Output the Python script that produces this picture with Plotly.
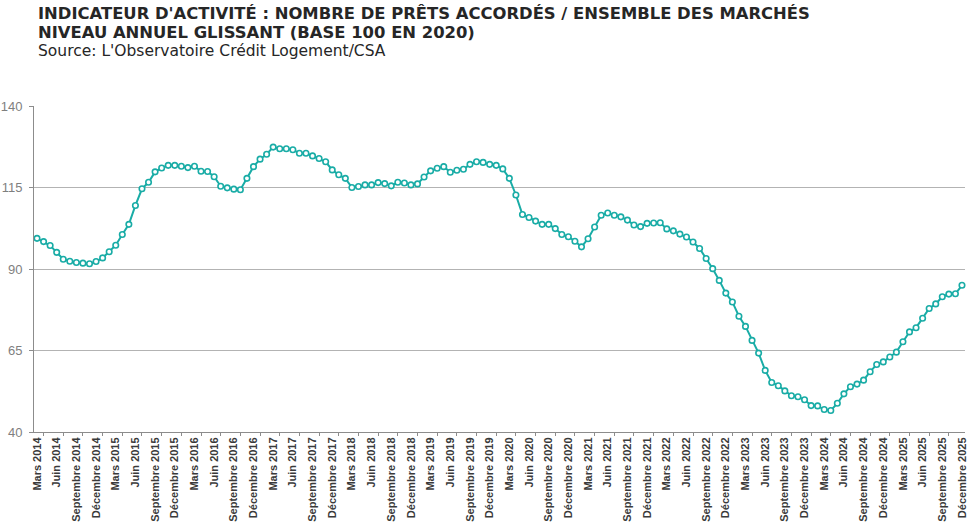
import plotly.graph_objects as go

# Mars 2014 -> Décembre 2025, one value per month (annual rolling level, base 100 in 2020)
mois = ["Janvier", "Février", "Mars", "Avril", "Mai", "Juin", "Juillet",
        "Août", "Septembre", "Octobre", "Novembre", "Décembre"]
annees = list(range(2014, 2026))

indice = [
    99.4, 98.4, 97.2, 95.1, 93.0, 92.4, 92.0, 91.8, 91.6, 92.3,
    93.4, 95.3, 97.3, 100.6, 103.7, 109.5, 114.6, 116.6, 119.8, 121.0,
    121.8, 121.8, 121.5, 121.1, 121.5, 120.0, 119.9, 118.3, 115.4, 114.9,
    114.5, 114.3, 117.8, 121.4, 123.7, 125.2, 127.4, 126.9, 126.9, 126.6,
    125.5, 125.5, 124.7, 123.9, 122.9, 120.4, 118.9, 117.8, 115.0, 115.3,
    115.8, 115.8, 116.5, 116.2, 115.5, 116.6, 116.4, 115.8, 116.1, 118.2,
    120.1, 120.9, 121.4, 119.7, 120.3, 120.6, 122.1, 122.9, 122.7, 122.1,
    121.8, 120.7, 117.8, 112.7, 106.7, 105.8, 104.7, 103.7, 103.7, 102.4,
    100.6, 99.9, 98.5, 96.8, 99.3, 102.9, 106.5, 107.2, 106.5, 106.0,
    105.0, 103.5, 103.0, 104.0, 104.1, 104.2, 102.3, 101.7, 100.7, 99.8,
    98.3, 96.3, 93.2, 90.1, 86.5, 82.6, 79.9, 75.5, 72.4, 68.1,
    64.2, 58.9, 55.2, 54.2, 52.6, 51.1, 50.8, 49.9, 48.1, 48.0,
    46.9, 46.6, 48.8, 51.7, 53.9, 54.7, 55.9, 58.5, 60.7, 61.5,
    63.0, 64.5, 67.7, 70.7, 72.0, 74.9, 77.9, 79.3, 81.5, 82.3,
    82.4, 85.0,
]

labels_mois = [f"{m} {a}" for a in annees for m in mois][2:]
x = list(range(len(indice)))
tick_pos = x[::3]
tick_text = labels_mois[::3]

y_ticks = [40, 65, 90, 115, 140]

titre_1 = "INDICATEUR D'ACTIVITÉ : NOMBRE DE PRÊTS ACCORDÉS / ENSEMBLE DES MARCHÉS"
titre_2 = "NIVEAU ANNUEL GLISSANT (BASE 100 EN 2020)"
source = "Source: L'Observatoire Crédit Logement/CSA"

# plot area in page pixels
PLOT_TOP, PLOT_H, PLOT_L, PLOT_W = 106, 326, 34, 931


def py(y_px):
    return (PLOT_TOP + PLOT_H - y_px) / PLOT_H


def px(x_px):
    return (x_px - PLOT_L) / PLOT_W


fig = go.Figure(go.Scatter(
    x=x,
    y=indice,
    text=labels_mois,
    mode="lines+markers",
    cliponaxis=False,
    line=dict(color="#19aca6", width=2),
    marker=dict(symbol="circle", size=5.5, color="white",
                line=dict(color="#19aca6", width=1.6)),
    hovertemplate="%{text}<br>%{y:.1f}<extra></extra>",
))

fig.update_layout(
    width=974,
    height=529,
    paper_bgcolor="white",
    plot_bgcolor="white",
    showlegend=False,
    margin=dict(l=PLOT_L, r=974 - PLOT_L - PLOT_W, t=PLOT_TOP, b=529 - PLOT_TOP - PLOT_H),
    font=dict(family="Liberation Sans, Arial, sans-serif", color="#7f7f7f"),
)

for txt, yc, size in [(f"<b>{titre_1}</b>", 13.5, 16.4),
                      (f"<b>{titre_2}</b>", 32.5, 16.4),
                      (source, 51, 15.5)]:
    fig.add_annotation(
        xref="paper", yref="paper", x=px(36), y=py(yc),
        xanchor="left", yanchor="middle", align="left", showarrow=False,
        text=txt,
        font=dict(family="DejaVu Sans, Verdana, sans-serif", size=size, color="#262626"),
    )

fig.update_xaxes(
    range=[-0.46, len(indice) - 0.54],
    automargin=False,
    tickmode="array",
    tickvals=tick_pos,
    ticktext=tick_text,
    tickangle=-90,
    tickfont=dict(family="Liberation Sans Narrow, Liberation Sans, Arial, sans-serif",
                  size=11, color="#3a3a3a", weight="bold"),
    ticks="",
    showgrid=False,
    showline=True,
    linecolor="#8c8c8c",
    linewidth=1,
    zeroline=False,
    minor=dict(tickmode="array", tickvals=x[1::3], ticks="outside",
               ticklen=3, tickcolor="#8c8c8c", showgrid=False),
)

fig.update_yaxes(
    range=[40, 140],
    automargin=False,
    tickmode="array",
    tickvals=y_ticks,
    ticks="outside",
    ticklen=4,
    tickcolor="#8c8c8c",
    ticklabelstandoff=4,
    tickfont=dict(size=13, color="#7f7f7f"),
    showgrid=True,
    gridcolor="#b3b3b3",
    gridwidth=1,
    showline=True,
    linecolor="#8c8c8c",
    linewidth=1,
    zeroline=False,
)

# drop the default 8px body margin so the figure sits at the page corner
fig.write_html("out.html", config={"displayModeBar": False},
               post_script="document.body.style.margin = '0';")
